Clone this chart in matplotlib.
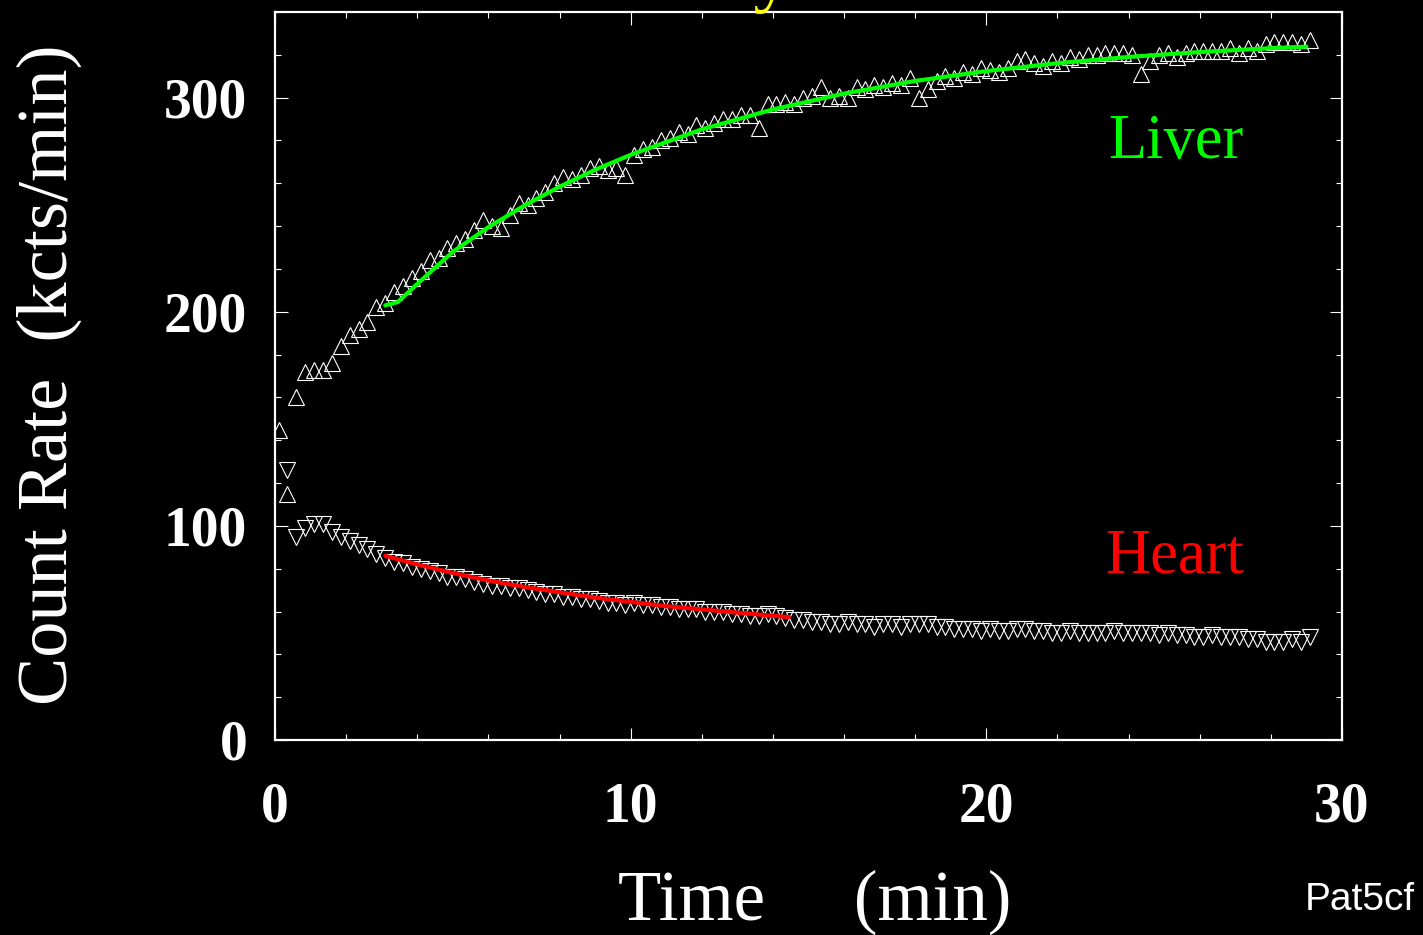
import numpy as np
import matplotlib.pyplot as plt

# frame times (min): 15 s frames starting at 0.1 min
frame_start = 0.1
frame_len = 0.25

liver = [145, 115, 160, 172, 173, 173, 176, 184, 189, 192,
         195, 202, 204, 209, 212, 216, 219, 224, 225, 230,
         232, 234, 238, 243, 240, 239, 245, 251, 250, 253,
         256, 260, 263, 262, 264, 267, 268, 266, 267, 264,
         273, 276, 277, 280, 281, 284, 283, 287, 286, 288,
         290, 290, 292, 292, 286, 297, 297, 298, 297, 300,
         301, 305, 300, 301, 300, 305, 304, 306, 305, 307,
         306, 309, 300, 304, 308, 310, 309, 312, 311, 314,
         313, 312, 314, 317, 318, 316, 315, 317, 316, 319,
         318, 320, 320, 321, 321, 321, 320, 311, 317, 320,
         321, 319, 321, 322, 322, 322, 322, 323, 321, 323,
         322, 325, 326, 326, 326, 325, 327]

heart = [np.nan, 126, 95, 99, 101, 101, 97, 95, 93, 91,
         89, 87, 85, 83, 82.5, 81, 80, 79, 78, 76,
         76, 75, 74, 73, 72, 72, 71, 71, 70, 69,
         68, 68, 67, 67, 66, 66, 65, 64, 64, 63,
         64, 63, 63, 62, 62, 61, 61, 61, 60, 60,
         60, 59, 59, 58, 58, 59, 58, 57, 56, 56,
         55, 55, 54, 54, 55, 54, 54, 53, 54, 54,
         53, 54, 54, 54, 53, 53, 52, 52, 52, 51,
         52, 51, 51, 52, 52, 51, 51, 50, 50, 51,
         50, 50, 50, 50, 51, 50, 50, 50, 50, 49,
         50, 49, 49, 48, 48, 49, 48, 48, 48, 47,
         47, 46, 46, 46, 47, 46, 48]

# fitted curves
liver_fit_t = [3.1, 3.45, 4, 5, 6, 7, 8, 9, 10, 12, 14, 16, 18, 20, 22, 24, 26, 28, 29]
liver_fit = [203, 204.5, 213, 228, 239.5, 249.5, 258.4, 266.3, 273.3, 285.2,
             294.5, 301.9, 307.8, 312.4, 316.1, 319, 321.3, 323.1, 323.8]
heart_fit_t = [3.1, 4, 5, 6, 7, 8, 9, 10, 11, 12, 13, 14, 14.45]
heart_fit = [86, 82, 78, 74.5, 71.5, 69, 66.5, 64.5, 62.5, 61, 59.5, 58, 57.4]

times = frame_start + frame_len * np.arange(len(liver))

serif = 'Liberation Serif'

fig = plt.figure(figsize=(14.23, 9.35), dpi=100, facecolor='black')
ax = fig.add_axes([275 / 1423, 1 - 740 / 935, (1342 - 275) / 1423, (740 - 12) / 935])
ax.set_facecolor('black')

ax.plot(times, liver, linestyle='none', marker='^', markersize=11.5,
        markerfacecolor='none', markeredgecolor='white', markeredgewidth=0.8)
ax.plot(times, heart, linestyle='none', marker='v', markersize=11.5,
        markerfacecolor='none', markeredgecolor='white', markeredgewidth=0.8)
ax.plot(liver_fit_t, liver_fit, color='#00ff00', lw=3, solid_capstyle='round')
ax.plot(heart_fit_t, heart_fit, color='#ff0000', lw=3, solid_capstyle='round')

ax.set_xlim(0, 30)
ax.set_ylim(0, 340)
ax.set_xticks([0, 10, 20, 30])
ax.set_xticks(np.arange(0, 31, 2), minor=True)
ax.set_yticks([0, 100, 200, 300])
ax.set_yticks(np.arange(0, 341, 20), minor=True)

for s in ax.spines.values():
    s.set_color('white')
    s.set_linewidth(1.6)

ax.tick_params(which='both', direction='in', colors='white', top=True, right=True, width=0.8)
ax.tick_params(which='major', length=9)
ax.tick_params(which='minor', length=4.5)
ax.tick_params(axis='x', which='major', pad=30)
ax.tick_params(axis='y', which='major', pad=20)
for lab in ax.get_xticklabels() + ax.get_yticklabels():
    lab.set_fontfamily(serif)
    lab.set_fontweight('bold')
    lab.set_fontsize(40)
    lab.set_color('white')

ax.text(23.42, 272, 'Liver', color='#00ff00', fontsize=45, family=serif, va='baseline', ha='left')
ax.text(23.34, 78.4, 'Heart', color='#ff0000', fontsize=45, family=serif, va='baseline', ha='left')

fig.text(49 / 1423, 1 - 375 / 935, 'Count Rate  (kcts/min)', rotation=90, color='white',
         fontsize=52, family=serif, ha='center', va='center')
fig.text(815 / 1423, 1 - 920 / 935, 'Time     (min)', color='white', fontsize=51,
         family=serif, ha='center', va='baseline')
fig.text(1415 / 1423, 1 - 910 / 935, 'Pat5cf', color='white', fontsize=28,
         family='Liberation Sans', ha='right', va='baseline')
# title, mostly cut off at the top edge as in the source slide
fig.text(355 / 1423, 1 + 2 / 935, 'Kinetics Study', color='yellow', fontsize=53,
         family=serif, ha='left', va='baseline')

fig.savefig('out.png', dpi=100, facecolor='black')
